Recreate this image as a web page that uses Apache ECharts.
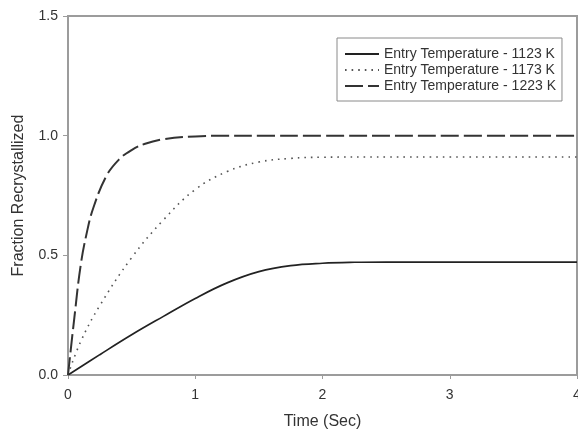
<!DOCTYPE html>
<html>
<head>
<meta charset="utf-8">
<script src="https://cdn.jsdelivr.net/npm/echarts@6/dist/echarts.min.js"></script>
<style>
  html, body { margin: 0; padding: 0; background: #fff; }
  #chart { width: 578px; height: 432px; }
</style>
</head>
<body>
<div id="chart"></div>
<script>
// Recrystallized fraction vs. time for three entry temperatures
const seriesNames = [
  'Entry Temperature - 1123 K',
  'Entry Temperature - 1173 K',
  'Entry Temperature - 1223 K'
];

const time1123 = [0, 0.25, 0.5, 0.75, 1, 1.25, 1.5, 1.75, 2, 2.25, 2.5, 3, 3.5, 4];
const frac1123 = [0, 0.085, 0.168, 0.245, 0.32, 0.385, 0.432, 0.457, 0.467, 0.471, 0.472, 0.472, 0.472, 0.472];

const time1173 = [0, 0.1, 0.25, 0.5, 0.75, 1, 1.25, 1.5, 1.75, 2, 2.5, 3, 3.5, 4];
const frac1173 = [0, 0.14, 0.29, 0.49, 0.648, 0.775, 0.85, 0.89, 0.905, 0.91, 0.911, 0.911, 0.911, 0.911];

const time1223 = [0, 0.05, 0.1, 0.15, 0.2, 0.3, 0.4, 0.5, 0.6, 0.75, 1, 1.25, 1.5, 2, 3, 4];
const frac1223 = [0, 0.24, 0.46, 0.6, 0.7, 0.83, 0.9, 0.94, 0.965, 0.985, 0.997, 1, 1, 1, 1, 1];

const xTicks = [0, 1, 2, 3, 4];
const yTicks = [0, 0.5, 1.0, 1.5];

const FONT = "'Liberation Sans', Arial, sans-serif";
const AXIS_GREY = '#9c9c9c';

function pairs(xs, ys) {
  return xs.map((x, i) => [x, ys[i]]);
}

const chart = echarts.init(document.getElementById('chart'), null, { renderer: 'canvas' });

chart.setOption({
  animation: false,
  backgroundColor: '#ffffff',
  textStyle: { fontFamily: FONT },
  grid: {
    left: 68, right: 1, top: 16, bottom: 57,
    containLabel: false,
    outerBoundsMode: 'none',
    show: true,
    borderColor: AXIS_GREY,
    borderWidth: 2,
    backgroundColor: 'transparent'
  },
  legend: {
    orient: 'vertical',
    left: 337,
    top: 38,
    data: seriesNames,
    itemWidth: 34,
    itemHeight: 14,
    itemGap: 2,
    padding: [9, 6, 8, 7],
    borderColor: '#8a8a8a',
    borderWidth: 1,
    backgroundColor: '#fff',
    itemStyle: { color: 'transparent', borderWidth: 0, opacity: 0 },
    textStyle: { fontFamily: FONT, fontSize: 14, color: '#333' }
  },
  xAxis: {
    type: 'value',
    min: xTicks[0],
    max: xTicks[xTicks.length - 1],
    interval: 1,
    name: 'Time (Sec)',
    nameLocation: 'middle',
    nameGap: 39,
    nameTextStyle: { fontFamily: FONT, fontSize: 16, color: '#333' },
    axisLine: { lineStyle: { color: AXIS_GREY, width: 2 } },
    axisTick: { inside: false, length: 4, lineStyle: { color: AXIS_GREY, width: 1 } },
    axisLabel: { margin: 13, fontFamily: FONT, fontSize: 14, color: '#333' },
    splitLine: { show: false }
  },
  yAxis: {
    type: 'value',
    min: yTicks[0],
    max: yTicks[yTicks.length - 1],
    interval: 0.5,
    name: 'Fraction Recrystallized',
    nameLocation: 'middle',
    nameGap: 41,
    nameTextStyle: { fontFamily: FONT, fontSize: 16, color: '#333' },
    axisLine: { show: true, lineStyle: { color: AXIS_GREY, width: 2 } },
    axisTick: { show: true, inside: false, length: 5, lineStyle: { color: AXIS_GREY, width: 1 } },
    axisLabel: {
      margin: 10, fontFamily: FONT, fontSize: 14, color: '#333',
      formatter: v => v.toFixed(1)
    },
    splitLine: { show: false }
  },
  series: [
    {
      name: seriesNames[0],
      type: 'line',
      data: pairs(time1123, frac1123),
      smooth: 0.4,
      symbol: 'none',
      lineStyle: { color: '#222', width: 1.7, type: 'solid' },
      itemStyle: { color: '#222' }
    },
    {
      name: seriesNames[1],
      type: 'line',
      data: pairs(time1173, frac1173),
      smooth: 0.4,
      symbol: 'none',
      lineStyle: { color: '#555', width: 1.6, type: [1.6, 5] },
      itemStyle: { color: '#555' }
    },
    {
      name: seriesNames[2],
      type: 'line',
      data: pairs(time1223, frac1223),
      smooth: 0.4,
      symbol: 'none',
      lineStyle: { color: '#333', width: 2, type: [18, 5] },
      itemStyle: { color: '#333' }
    }
  ]
});
</script>
</body>
</html>
